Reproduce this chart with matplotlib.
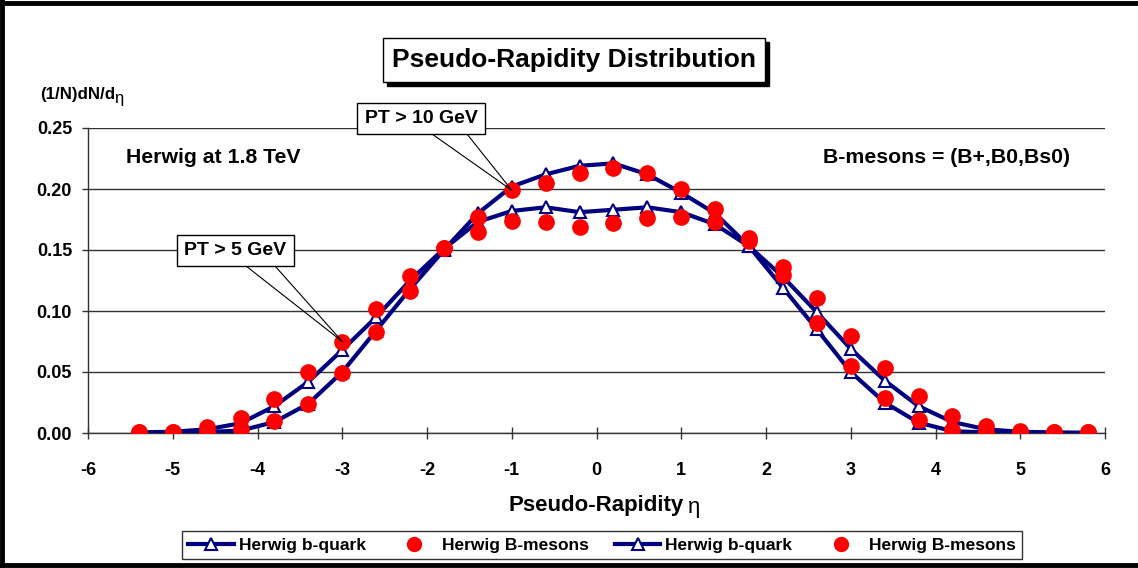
import numpy as np
import matplotlib
matplotlib.use('Agg')
import matplotlib.pyplot as plt
from matplotlib.patches import Rectangle
from matplotlib.lines import Line2D

plt.rcParams['font.family'] = ['Liberation Sans', 'DejaVu Sans']
plt.rcParams['font.weight'] = 'bold'

# pseudo-rapidity bins
eta = [-5.4, -5.0, -4.6, -4.2, -3.8, -3.4, -3.0, -2.6, -2.2, -1.8,
       -1.4, -1.0, -0.6, -0.2, 0.2, 0.6, 1.0, 1.4, 1.8, 2.2,
       2.6, 3.0, 3.4, 3.8, 4.2, 4.6, 5.0, 5.4, 5.8]

# PT > 5 GeV
quark_pt5 = [0.0005, 0.001, 0.003, 0.008, 0.022, 0.042, 0.068, 0.095, 0.125, 0.151,
             0.173, 0.182, 0.185, 0.181, 0.183, 0.185, 0.181, 0.171, 0.153, 0.128,
             0.099, 0.069, 0.043, 0.022, 0.009, 0.003, 0.001, 0.0005, 0.0002]
meson_pt5 = [0.001, 0.001, 0.005, 0.0125, 0.028, 0.050, 0.075, 0.102, 0.129, 0.152,
             0.165, 0.174, 0.173, 0.169, 0.172, 0.1765, 0.177, 0.173, 0.160, 0.136,
             0.111, 0.0795, 0.053, 0.030, 0.014, 0.0055, 0.0015, 0.001, 0.0008]

# PT > 10 GeV
quark_pt10 = [0.0, 0.0003, 0.0008, 0.002, 0.009, 0.024, 0.050, 0.084, 0.118, 0.150,
              0.180, 0.202, 0.212, 0.219, 0.221, 0.212, 0.197, 0.180, 0.153, 0.119,
              0.085, 0.050, 0.025, 0.0085, 0.0015, 0.0005, 0.0002, 0.0, 0.0]
meson_pt10 = [0.0005, 0.0008, 0.0005, 0.003, 0.010, 0.024, 0.049, 0.083, 0.1165, 0.152,
              0.177, 0.199, 0.205, 0.213, 0.217, 0.213, 0.1997, 0.184, 0.157, 0.1295,
              0.090, 0.055, 0.029, 0.0107, 0.0025, 0.001, 0.001, 0.0008, 0.0005]

x_ticks = [-6, -5, -4, -3, -2, -1, 0, 1, 2, 3, 4, 5, 6]
y_ticks = [0.00, 0.05, 0.10, 0.15, 0.20, 0.25]

NAVY = '#000080'
RED = '#ff0000'
W, H = 1138, 568


def fx(p):
    return p / W


def fy(p):
    return 1 - p / H


fig = plt.figure(figsize=(W / 100, H / 100), dpi=100)
ax = fig.add_axes([fx(88), fy(433), fx(1105 - 88), (433 - 128) / H])

for q in [quark_pt5, quark_pt10]:
    ax.plot(eta, q, color=NAVY, lw=3, marker='^', ms=8, mfc='white',
            mec=NAVY, mew=1.5, zorder=3)
for m in [meson_pt5, meson_pt10]:
    ax.plot(eta, m, ls='none', marker='o', ms=11, color=RED, mec=RED, zorder=4)

ax.set_xlim(-6, 6)
ax.set_ylim(0, 0.25)
ax.set_xticks(x_ticks)
ax.set_xticklabels([str(t) for t in x_ticks])
ax.set_yticks(y_ticks)
ax.set_yticklabels(['%.2f' % t for t in y_ticks])
ax.grid(axis='y', color='#333333', lw=1)
ax.set_axisbelow(True)
for s in ['top', 'right']:
    ax.spines[s].set_visible(False)
for s in ['left', 'bottom']:
    ax.spines[s].set_color('#333333')
    ax.spines[s].set_linewidth(1)
ax.tick_params(axis='x', direction='inout', length=8, width=1, color='#333333',
               pad=17, labelsize=13)
ax.tick_params(axis='y', direction='out', length=4.5, width=1, color='#333333',
               pad=7, labelsize=13)

# axis titles
fig.text(fx(40), fy(95), '(1/N)dN/d', fontsize=12.2, ha='left', va='center')
fig.text(fx(114), fy(99), 'η', fontsize=12, ha='left', va='center', fontweight='normal')
fig.text(fx(684), fy(505), 'Pseudo-Rapidity', fontsize=16, ha='right', va='center')
fig.text(fx(688), fy(508), 'η', fontsize=16, ha='left', va='center', fontweight='normal')

# title box with shadow
fig.patches.append(Rectangle((fx(387), fy(86)), fx(382), 44 / H, transform=fig.transFigure,
                             facecolor='black', edgecolor='black', lw=1, zorder=1))
fig.patches.append(Rectangle((fx(383), fy(82)), fx(382), 44 / H, transform=fig.transFigure,
                             facecolor='white', edgecolor='black', lw=1, zorder=2))
fig.text(fx(574), fy(60), 'Pseudo-Rapidity Distribution', fontsize=19, ha='center',
         va='center', zorder=3)

# in-plot labels
ax.text(0.037, 0.902, 'Herwig at 1.8 TeV', transform=ax.transAxes, fontsize=15.3,
        ha='left', va='center')
ax.text(0.966, 0.902, 'B-mesons = (B+,B0,Bs0)', transform=ax.transAxes, fontsize=15.3,
        ha='right', va='center')

# callouts
callouts = [
    ('PT > 10 GeV', (352, 103, 138, 31), (432, 467), eta[11], meson_pt10[11]),
    ('PT > 5 GeV', (177, 235, 117, 31), (246, 275), eta[6], meson_pt5[6]),
]
for label, (bx, by, bw, bh), (l1, l2), xd, yd in callouts:
    for lx in (l1, l2):
        ax.annotate('', xy=(xd, yd), xycoords='data',
                    xytext=(fx(lx), fy(by + bh)), textcoords='figure fraction',
                    arrowprops=dict(arrowstyle='-', color='black', lw=0.8,
                                    shrinkA=0, shrinkB=0), zorder=5)
    ax.text(fx(bx + bw / 2), fy(by + bh / 2), label, transform=fig.transFigure,
            fontsize=14, ha='center', va='center', zorder=6,
            bbox=dict(boxstyle='square,pad=0.38', facecolor='white',
                      edgecolor='black', lw=1))

# legend
h_quark = Line2D([], [], color=NAVY, lw=3, marker='^', ms=8, mfc='white', mec=NAVY, mew=1.5)
h_meson = Line2D([], [], ls='none', marker='o', ms=10, color=RED)
leg = fig.legend([h_quark, h_meson, h_quark, h_meson],
                 ['Herwig b-quark', 'Herwig B-mesons', 'Herwig b-quark', 'Herwig B-mesons'],
                 loc='center', bbox_to_anchor=(fx(602), fy(545)), ncol=4,
                 fontsize=12.5, frameon=True, fancybox=False, edgecolor='black',
                 handlelength=2.6, handletextpad=0.3, columnspacing=1.5,
                 borderpad=0.35)
leg.get_frame().set_linewidth(1)

# outer border (top, left, bottom)
for xs, ys in [((0, 1), (fy(3), fy(3))), ((fx(2), fx(2)), (0, 1)), ((0, 1), (fy(565), fy(565)))]:
    fig.add_artist(Line2D(xs, ys, transform=fig.transFigure, color='black', lw=3.5))

fig.savefig('out.png', dpi=100)
